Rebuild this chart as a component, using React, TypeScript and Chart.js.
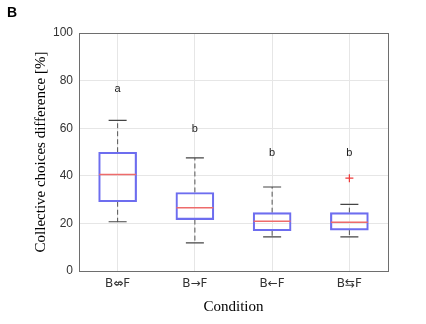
import React, { useEffect, useRef } from 'react';
import { Chart, registerables } from 'chart.js';

Chart.register(...registerables);

// ---- data ----
const categories = ['B⇎F', 'B→F', 'B←F', 'B⇆F'];
const whiskerLow = [20.7, 11.8, 14.3, 14.3];
const quartile1 = [29.1, 21.6, 16.9, 17.2];
const medians = [40.5, 26.6, 20.9, 20.5];
const quartile3 = [49.9, 33.0, 24.5, 24.5];
const whiskerHigh = [63.3, 47.5, 35.3, 28.0];
const outlierCategories = ['B⇆F'];
const outlierValues = [39.0];
const groupLetters = ['a', 'b', 'b', 'b'];
const groupLetterValues = [76.3, 59.5, 49.7, 49.7];
const yTickValues = [0, 20, 40, 60, 80, 100];

const axisColor = '#6e6e6e';
const gridColor = '#e6e6e6';
const sansFont = '"Liberation Sans", Arial, sans-serif';
const tickFont = '"DejaVu Sans", sans-serif';
const serifFont = '"Liberation Serif", "Times New Roman", serif';

const annotatePlugin = {
  id: 'annotate',
  afterDraw(chart: any) {
    const { ctx, chartArea, scales } = chart;
    const x = scales.x;
    const y = scales.y;
    ctx.save();
    ctx.strokeStyle = axisColor;
    ctx.lineWidth = 1;
    ctx.strokeRect(
      Math.round(chartArea.left) + 0.5,
      Math.round(chartArea.top) + 0.5,
      Math.round(chartArea.right - chartArea.left),
      Math.round(chartArea.bottom - chartArea.top)
    );
    ctx.fillStyle = '#1a1a1a';
    ctx.font = `11px ${sansFont}`;
    ctx.textAlign = 'center';
    ctx.textBaseline = 'middle';
    groupLetters.forEach((t, i) => {
      ctx.fillText(t, x.getPixelForValue(i), y.getPixelForValue(groupLetterValues[i]));
    });
    ctx.fillStyle = '#000';
    ctx.font = `bold 14px ${sansFont}`;
    ctx.textAlign = 'left';
    ctx.textBaseline = 'top';
    ctx.fillText('B', 7, 6);
    ctx.restore();
  },
};

export default function App() {
  const canvasRef = useRef<HTMLCanvasElement | null>(null);

  useEffect(() => {
    const canvas = canvasRef.current;
    if (!canvas) return;

    const whiskerData: any[] = [];
    categories.forEach((c, i) => {
      whiskerData.push({ x: c, y: quartile3[i] });
      whiskerData.push({ x: c, y: whiskerHigh[i] });
      whiskerData.push({ x: c, y: null });
      whiskerData.push({ x: c, y: quartile1[i] });
      whiskerData.push({ x: c, y: whiskerLow[i] });
      whiskerData.push({ x: c, y: null });
    });
    const capData: any[] = [];
    categories.forEach((c, i) => {
      capData.push({ x: c, y: whiskerHigh[i] });
      capData.push({ x: c, y: whiskerLow[i] });
    });
    const medianData = categories.map((c, i) => ({ x: c, y: medians[i] }));
    const outlierData = outlierCategories.map((c, i) => ({ x: c, y: outlierValues[i] }));

    const chart = new Chart(canvas, {
      type: 'bar',
      data: {
        labels: categories,
        datasets: [
          {
            type: 'line',
            data: whiskerData,
            borderColor: '#555555',
            borderWidth: 1,
            borderDash: [5, 3],
            pointRadius: 0,
            spanGaps: false,
            order: 4,
          } as any,
          {
            type: 'bar',
            data: categories.map((_, i) => [quartile1[i], quartile3[i]]),
            backgroundColor: 'rgba(255,255,255,0)',
            borderColor: '#6d6def',
            borderWidth: 1.5,
            borderSkipped: false,
            barThickness: 38,
            order: 3,
          } as any,
          {
            type: 'line',
            data: capData,
            showLine: false,
            pointStyle: 'line',
            pointRadius: 9,
            borderColor: '#444444',
            pointBorderColor: '#444444',
            pointBorderWidth: 1.2,
            order: 2,
          } as any,
          {
            type: 'line',
            data: medianData,
            showLine: false,
            pointStyle: 'line',
            pointRadius: 18.5,
            borderColor: '#ee6b6b',
            pointBorderColor: '#ee6b6b',
            pointBorderWidth: 1.5,
            order: 1,
          } as any,
          {
            type: 'line',
            data: outlierData,
            showLine: false,
            pointStyle: 'cross',
            pointRadius: 4,
            borderColor: '#ee3b3b',
            pointBorderColor: '#ee3b3b',
            pointBorderWidth: 1.2,
            order: 0,
          } as any,
        ],
      },
      options: {
        animation: false,
        responsive: false,
        events: [],
        layout: { padding: { left: 29, top: 33, right: 38, bottom: 0 } },
        plugins: {
          legend: { display: false },
          tooltip: { enabled: false },
        },
        scales: {
          x: {
            type: 'category',
            offset: true,
            grid: { color: gridColor, offset: false, drawTicks: false },
            border: { color: axisColor, width: 1 },
            ticks: {
              color: '#333',
              padding: 6,
              font: { family: tickFont, size: 12 },
            },
            title: {
              display: true,
              text: 'Condition',
              color: '#000',
              font: { family: serifFont, size: 15 },
              padding: { top: 0, bottom: 8 },
            },
            afterFit(scale: any) {
              scale.height = 53;
            },
          },
          y: {
            min: 0,
            max: 100,
            afterBuildTicks(scale: any) {
              scale.ticks = yTickValues.map((v) => ({ value: v }));
            },
            grid: { color: gridColor, drawTicks: false },
            border: { color: axisColor, width: 1 },
            ticks: {
              color: '#333',
              padding: 6,
              font: { family: sansFont, size: 12 },
            },
            title: {
              display: true,
              text: 'Collective choices difference [%]',
              color: '#000',
              font: { family: serifFont, size: 15 },
              padding: { top: 3, bottom: 0 },
            },
            afterFit(scale: any) {
              scale.width = 50;
            },
          },
        },
      } as any,
      plugins: [annotatePlugin],
    });

    return () => chart.destroy();
  }, []);

  return (
    <div style={{ position: 'absolute', left: 0, top: 0, width: 426, height: 324, background: '#fff' }}>
      <canvas ref={canvasRef} width={426} height={324} />
    </div>
  );
}
